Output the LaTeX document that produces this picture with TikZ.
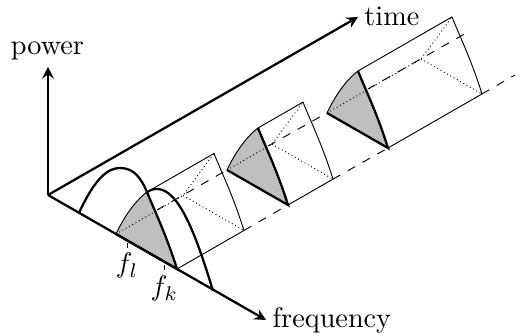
\documentclass[tikz,border=0pt]{standalone}
\usetikzlibrary{calc}
\tikzset{axis/.style={thick,->},
  edge/.style={line width=.33pt},
  bold/.style={line width=.8pt}}
\begin{document}
\begin{tikzpicture}[>=stealth,x=.354pt,y=-.354pt]
\useasboundingbox (0,0) rectangle (521,336);
\coordinate (O) at (48,195);
\coordinate (P) at (48,67);
\coordinate (T) at (358,17);
\coordinate (F) at (266,320);
% prisms: front left corner, depth
\foreach \n/\x/\y/\d in {1/116/234/67,2/227/170/45,3/327/113/94}{
\coordinate (fl\n) at (\x,\y);
\coordinate (ap\n) at ($(fl\n)+(31,-42)$);
\coordinate (fr\n) at ($(fl\n)+(61,35)$);
\coordinate (md\n) at ($(fl\n)+(41,-24)$);
\coordinate (rl\n) at ($(fl\n)+(\d,-.575*\d)$);
\coordinate (ra\n) at ($(ap\n)+(\d,-.575*\d)$);
\coordinate (rr\n) at ($(fr\n)+(\d,-.575*\d)$);
\fill[black!25](fl\n) .. controls +(8,-17) and +(-12,9) .. (ap\n)
  .. controls +(8,20) and +(-11,-35) .. (fr\n)--cycle;
\draw[edge](fl\n) .. controls +(8,-17) and +(-12,9) .. (ap\n);
\draw[bold](ap\n) .. controls +(8,20) and +(-11,-35) .. (fr\n)--(fl\n);
\draw[edge](ap\n)--(ra\n) .. controls +(8,20) and +(-11,-35) .. (rr\n)--(fr\n);
\draw[densely dotted,edge](fl\n)--(rl\n)--(ra\n);
\draw[densely dotted,edge](rl\n)--(rr\n);
}
\coordinate (e1) at (468,32);
\coordinate (e2) at (515,75);
\draw[dashed,edge](md1)--(fl2);
\draw[dashed,edge](md2)--(fl3);
\draw[dashed,edge](md3)--(e1);
\draw[dashed,edge](rr1)--(fr2);
\draw[dashed,edge](rr2)--(fr3);
\draw[dashed,edge](rr3)--(e2);
% spectra
\coordinate (s1) at (79,213);
\coordinate (s2) at (213,291);
\draw[bold](s1) .. controls (95,178) and (108,168) .. (120,168)
  .. controls (134,168) and (141,178) .. (ap1);
\draw[bold](ap1) .. controls (150,190) and (153,189) .. (157,189)
  .. controls (178,189) and (195,231) .. (s2);
% axes
\draw[axis](O)--(P);
\draw[axis](O)--(T);
\draw[axis](O)--(F);
\node[anchor=base] (pw) at (47.5,55){power};
\node[anchor=base west] (tm) at (354.5,26){time};
\node[anchor=base west] (fq) at (262.6,328){frequency};
\coordinate (la) at (127,243);
\coordinate (lb) at (127,248);
\coordinate (ka) at (164,265);
\coordinate (kb) at (164,270);
\draw[edge](la)--(lb);
\draw[edge](ka)--(kb);
\node[anchor=base] (fl) at (127,273){$f_l$};
\node[anchor=base] (fk) at (164.5,296){$f_k$};
\end{tikzpicture}
\end{document}
